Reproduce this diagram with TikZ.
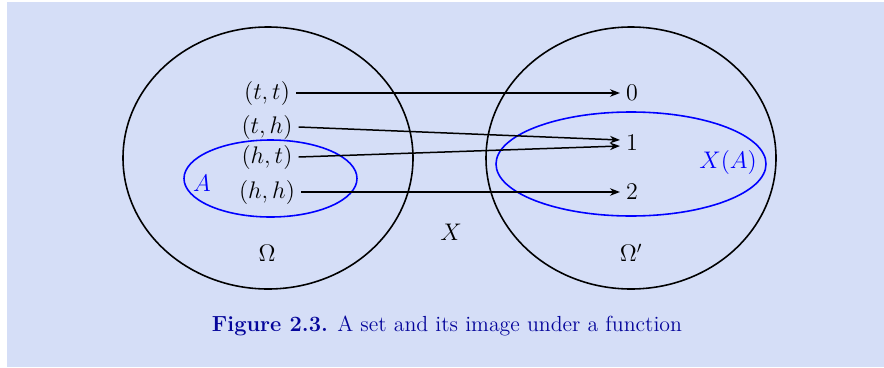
\documentclass[tikz,border=0pt]{standalone}
\usepackage{amsmath}
\usepackage{amssymb}
\usepackage{tikz}
\usetikzlibrary{shapes.geometric,arrows.meta}
\definecolor{figbg}{RGB}{213,222,247}
\definecolor{capblue}{RGB}{5,5,155}
\tikzset{node distance=2.0cm, auto}
\tikzset{
  setbox/.style={ellipse, draw, line width=0.95pt, inner sep=0pt},
  subbox/.style={ellipse, draw=blue, line width=0.95pt, inner sep=0pt},
  elem/.style={inner sep=3.5pt, font=\fontsize{14}{16}\selectfont},
  maps/.style={-{Stealth[length=6pt,width=4.5pt]}, line width=0.9pt}
}

\begin{document}
\begin{tikzpicture}[x=0.6pt, y=-0.6pt]
\useasboundingbox (0,0) rectangle (884,367);
\fill[figbg] (7,2) rectangle (884,367);

% the two sets
\node[setbox, minimum width=174pt, minimum height=157.2pt] (omega) at (268,158) {};
\node[setbox, minimum width=174pt, minimum height=157.2pt] (omegap) at (631,158) {};
\node[subbox, minimum width=103.8pt, minimum height=46.2pt] (A) at (270.5,178.5) {};
\node[subbox, minimum width=162pt, minimum height=62.4pt] (XA) at (631,164) {};

% elements
\node[elem] (tt) at (267,93) {$(t,t)$};
\node[elem] (th) at (267,127) {$(t,h)$};
\node[elem] (ht) at (267,157) {$(h,t)$};
\node[elem] (hh) at (267,192) {$(h,h)$};
\node[elem] (zero) at (632,93) {$0$};
\node[elem] (one) at (632,143) {$1$};
\node[elem] (two) at (632,192) {$2$};

% labels
\node[elem, text=blue] (Alab) at (202,183) {$A$};
\node[elem, text=blue] (XAlab) at (728,162) {$X(A)$};
\node[elem] (Om) at (267,253) {$\Omega$};
\node[elem] (Omp) at (631,253) {$\Omega'$};
\node[elem] (X) at (451,232) {$X$};

% the map
\draw[maps] (tt.east) -- (zero.west);
\draw[maps] (th.east) -- ([yshift=1.8pt]one.west);
\draw[maps] (ht.east) -- ([yshift=-1.8pt]one.west);
\draw[maps] (hh.east) -- (two.west);

\node[text=capblue, font=\fontsize{13.1}{15}\selectfont] (cap) at (447,326)
  {\textbf{Figure 2.3.} A set and its image under a function};
\end{tikzpicture}
\end{document}
